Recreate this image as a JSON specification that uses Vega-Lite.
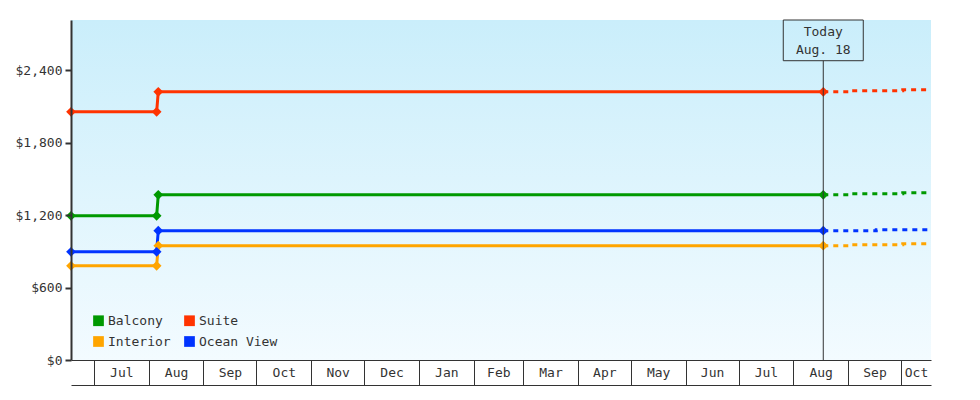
{
  "$schema": "https://vega.github.io/schema/vega-lite/v6.json",
  "width": 860,
  "height": 340,
  "autosize": {"type": "none"},
  "padding": {"left": 71, "top": 20, "right": 49, "bottom": 40},
  "background": "white",
  "config": {
    "view": {"stroke": null},
    "font": "DejaVu Sans Mono",
    "axis": {"labelFont": "DejaVu Sans Mono", "labelFontSize": 13, "labelColor": "#333", "domainColor": "#333", "tickColor": "#333", "grid": false, "zindex": 1}
  },
  "datasets": {
    "prices": [
      {"series": "Interior", "kind": "actual", "date": "2018-06-18T00:00:00", "price": 780},
      {"series": "Interior", "kind": "actual", "date": "2018-08-05T12:00:00", "price": 780},
      {"series": "Interior", "kind": "actual", "date": "2018-08-06T10:00:00", "price": 946},
      {"series": "Interior", "kind": "actual", "date": "2019-08-18T00:00:00", "price": 946},
      {"series": "Interior", "kind": "forecast", "date": "2019-08-18T00:00:00", "price": 946},
      {"series": "Interior", "kind": "forecast", "date": "2019-09-03T00:00:00", "price": 954},
      {"series": "Interior", "kind": "forecast", "date": "2019-10-02T00:00:00", "price": 963},
      {"series": "Interior", "kind": "forecast", "date": "2019-10-18T00:00:00", "price": 963},
      {"series": "Balcony", "kind": "actual", "date": "2018-06-18T00:00:00", "price": 1194},
      {"series": "Balcony", "kind": "actual", "date": "2018-08-05T12:00:00", "price": 1194},
      {"series": "Balcony", "kind": "actual", "date": "2018-08-06T10:00:00", "price": 1368},
      {"series": "Balcony", "kind": "actual", "date": "2019-08-18T00:00:00", "price": 1368},
      {"series": "Balcony", "kind": "forecast", "date": "2019-08-18T00:00:00", "price": 1368},
      {"series": "Balcony", "kind": "forecast", "date": "2019-09-03T00:00:00", "price": 1376},
      {"series": "Balcony", "kind": "forecast", "date": "2019-10-02T00:00:00", "price": 1384},
      {"series": "Balcony", "kind": "forecast", "date": "2019-10-18T00:00:00", "price": 1384},
      {"series": "Ocean View", "kind": "actual", "date": "2018-06-18T00:00:00", "price": 896},
      {"series": "Ocean View", "kind": "actual", "date": "2018-08-05T12:00:00", "price": 896},
      {"series": "Ocean View", "kind": "actual", "date": "2018-08-06T10:00:00", "price": 1071},
      {"series": "Ocean View", "kind": "actual", "date": "2019-08-18T00:00:00", "price": 1071},
      {"series": "Ocean View", "kind": "forecast", "date": "2019-08-18T00:00:00", "price": 1071},
      {"series": "Ocean View", "kind": "forecast", "date": "2019-09-17T00:00:00", "price": 1079},
      {"series": "Ocean View", "kind": "forecast", "date": "2019-10-18T00:00:00", "price": 1079},
      {"series": "Suite", "kind": "actual", "date": "2018-06-18T00:00:00", "price": 2055},
      {"series": "Suite", "kind": "actual", "date": "2018-08-05T12:00:00", "price": 2055},
      {"series": "Suite", "kind": "actual", "date": "2018-08-06T10:00:00", "price": 2220},
      {"series": "Suite", "kind": "actual", "date": "2019-08-18T00:00:00", "price": 2220},
      {"series": "Suite", "kind": "forecast", "date": "2019-08-18T00:00:00", "price": 2220},
      {"series": "Suite", "kind": "forecast", "date": "2019-09-03T00:00:00", "price": 2229},
      {"series": "Suite", "kind": "forecast", "date": "2019-10-02T00:00:00", "price": 2238},
      {"series": "Suite", "kind": "forecast", "date": "2019-10-18T00:00:00", "price": 2238}
    ],
    "today": [
      {"date": "2019-08-18T00:00:00"}
    ]
  },
  "resolve": {"axis": {"x": "independent", "y": "shared"}, "legend": {"color": "shared"}},
  "layer": [
    {
      "data": {"values": [{}]},
      "mark": {"type": "rect", "fill": {"gradient": "linear", "x1": 0, "y1": 0, "x2": 0, "y2": 1, "stops": [{"offset": 0, "color": "#caeefb"}, {"offset": 1, "color": "#f3fbff"}]}},
      "encoding": {}
    },
    {
      "data": {"name": "prices"},
      "transform": [{"filter": "datum.kind == 'actual'"}],
      "mark": {"type": "line", "strokeWidth": 3},
      "encoding": {
        "x": {
          "field": "date", "type": "temporal",
          "scale": {"domain": [{"year": 2018, "month": 6, "date": 18}, {"year": 2019, "month": 10, "date": 18}], "padding": 0, "nice": false},
          "axis": {
            "title": null,
            "orient": "bottom",
            "zindex": 2,
            "values": [
              {"year": 2018, "month": 7, "date": 1}, {"year": 2018, "month": 8, "date": 1}, {"year": 2018, "month": 9, "date": 1},
              {"year": 2018, "month": 10, "date": 1}, {"year": 2018, "month": 11, "date": 1}, {"year": 2018, "month": 12, "date": 1},
              {"year": 2019, "month": 1, "date": 1}, {"year": 2019, "month": 2, "date": 1}, {"year": 2019, "month": 3, "date": 1},
              {"year": 2019, "month": 4, "date": 1}, {"year": 2019, "month": 5, "date": 1}, {"year": 2019, "month": 6, "date": 1},
              {"year": 2019, "month": 7, "date": 1}, {"year": 2019, "month": 8, "date": 1}, {"year": 2019, "month": 9, "date": 1},
              {"year": 2019, "month": 10, "date": 1}
            ],
            "format": "%b",
            "tickSize": 25, "tickWidth": 1, "domainWidth": 1,
            "labelAlign": "center", "labelBaseline": "middle", "labelPadding": -12.5,
            "labelOffset": {"condition": [
              {"test": "month(datum.value) == 9 && year(datum.value) == 2019", "value": 15},
              {"test": "month(datum.value) == 1", "value": 24.7},
              {"test": "month(datum.value) == 3 || month(datum.value) == 5 || month(datum.value) == 8 || month(datum.value) == 10", "value": 26.5}
            ], "value": 27.4},
            "labelFlush": false, "labelOverlap": false, "labelBound": false
          }
        },
        "y": {
          "field": "price", "type": "quantitative",
          "scale": {"domain": [0, 2815], "nice": false, "padding": 0},
          "axis": {"title": null, "orient": "left", "zindex": 2, "values": [0, 600, 1200, 1800, 2400], "labelExpr": "'$' + format(datum.value, ',')", "tickSize": 6, "tickWidth": 2, "domainWidth": 2, "labelPadding": 3}
        },
        "color": {
          "field": "series", "type": "nominal",
          "scale": {"domain": ["Balcony", "Interior", "Suite", "Ocean View"], "range": ["#009900", "#ffa500", "#ff3300", "#0033ff"]},
          "legend": {
            "title": null, "orient": "none", "legendX": 21, "legendY": 294, "columns": 2,
            "symbolType": "square", "symbolSize": 115, "symbolOpacity": 1, "symbolStrokeWidth": 0,
            "labelFont": "DejaVu Sans Mono", "labelFontSize": 13, "labelColor": "#333",
            "columnPadding": 12, "rowPadding": 7, "labelOffset": 3, "padding": 0,
            "zindex": 2
          }
        }
      }
    },
    {
      "data": {"name": "prices"},
      "transform": [{"filter": "datum.kind == 'forecast'"}],
      "mark": {"type": "line", "strokeWidth": 3, "strokeDash": [5, 5], "interpolate": "step-after"},
      "encoding": {
        "x": {"field": "date", "type": "temporal", "axis": null},
        "y": {"field": "price", "type": "quantitative", "axis": {"title": null, "orient": "left", "zindex": 2, "values": [0, 600, 1200, 1800, 2400], "labelExpr": "'$' + format(datum.value, ',')", "tickSize": 6, "tickWidth": 2, "domainWidth": 2, "labelPadding": 3}},
        "color": {"field": "series", "type": "nominal", "legend": null}
      }
    },
    {
      "data": {"name": "prices"},
      "transform": [{"filter": "datum.kind == 'actual'"}],
      "mark": {"type": "point", "filled": true, "shape": "diamond", "size": 95, "opacity": 1},
      "encoding": {
        "x": {"field": "date", "type": "temporal", "axis": null},
        "y": {"field": "price", "type": "quantitative", "axis": {"title": null, "orient": "left", "zindex": 2, "values": [0, 600, 1200, 1800, 2400], "labelExpr": "'$' + format(datum.value, ',')", "tickSize": 6, "tickWidth": 2, "domainWidth": 2, "labelPadding": 3}},
        "color": {"field": "series", "type": "nominal", "legend": null}
      }
    },
    {
      "data": {"name": "today"},
      "mark": {"type": "rule", "color": "#333", "strokeWidth": 1},
      "encoding": {
        "x": {"field": "date", "type": "temporal", "axis": {"title": null, "orient": "bottom", "offset": 25, "ticks": false, "labels": false, "domain": true, "domainWidth": 1, "zindex": 2}},
        "y": {"datum": 0, "type": "quantitative", "axis": {"title": null, "orient": "left", "zindex": 2, "values": [0, 600, 1200, 1800, 2400], "labelExpr": "'$' + format(datum.value, ',')", "tickSize": 6, "tickWidth": 2, "domainWidth": 2, "labelPadding": 3}},
        "y2": {"datum": 2478}
      }
    },
    {
      "data": {"name": "today"},
      "mark": {"type": "bar", "width": 80, "fillOpacity": 0, "stroke": "#333", "strokeWidth": 1},
      "encoding": {
        "x": {"field": "date", "type": "temporal", "axis": null},
        "y": {"datum": 2815, "type": "quantitative", "axis": {"title": null, "orient": "left", "zindex": 2, "values": [0, 600, 1200, 1800, 2400], "labelExpr": "'$' + format(datum.value, ',')", "tickSize": 6, "tickWidth": 2, "domainWidth": 2, "labelPadding": 3}},
        "y2": {"datum": 2478}
      }
    },
    {
      "data": {"name": "today"},
      "mark": {"type": "text", "text": ["Today", "Aug. 18"], "font": "DejaVu Sans Mono", "fontSize": 13, "color": "#333", "align": "center", "baseline": "middle", "lineHeight": 18},
      "encoding": {
        "x": {"field": "date", "type": "temporal", "axis": null},
        "y": {"datum": 2713, "type": "quantitative", "axis": {"title": null, "orient": "left", "zindex": 2, "values": [0, 600, 1200, 1800, 2400], "labelExpr": "'$' + format(datum.value, ',')", "tickSize": 6, "tickWidth": 2, "domainWidth": 2, "labelPadding": 3}}
      }
    }
  ]
}
